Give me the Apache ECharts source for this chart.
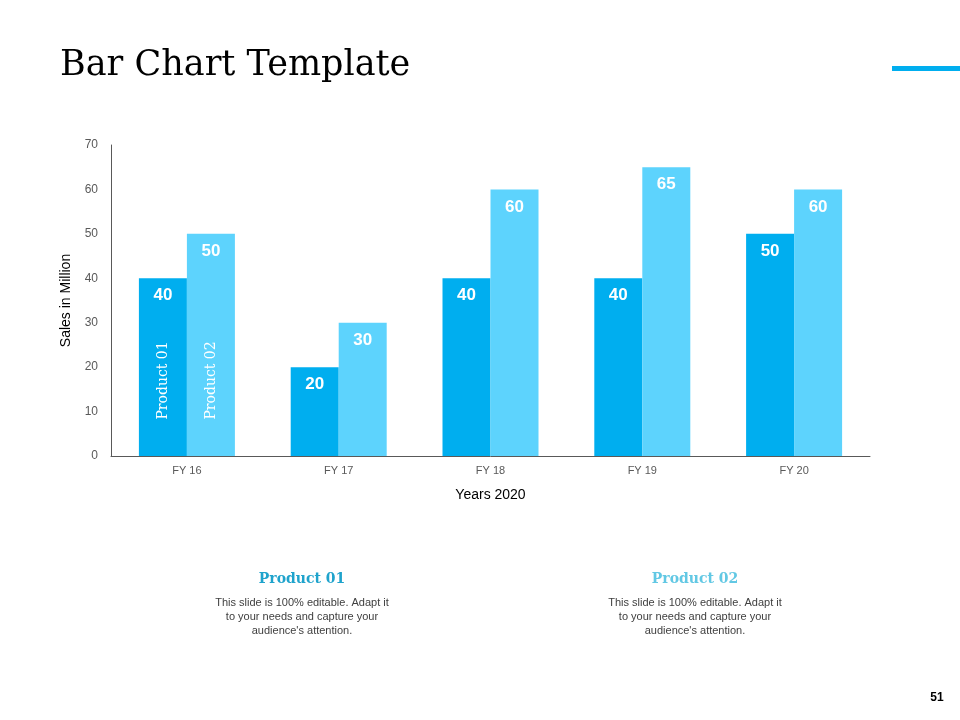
<!DOCTYPE html>
<html>
<head>
<meta charset="utf-8">
<script src="https://cdn.jsdelivr.net/npm/echarts@6/dist/echarts.min.js"></script>
<style>
  html, body { margin: 0; padding: 0; background: #ffffff; }
  #chart { width: 960px; height: 720px; }
</style>
</head>
<body>
<div id="chart"></div>
<script>
var chart = echarts.init(document.getElementById('chart'));

// data
var years = ['FY 16', 'FY 17', 'FY 18', 'FY 19', 'FY 20'];
var product01 = [40, 20, 40, 40, 50];
var product02 = [50, 30, 60, 65, 60];
var seriesNames = ['Product 01', 'Product 02'];
var COLORS = ['#00AEEF', '#5DD3FD'];
var blurb = "This slide is 100% editable. Adapt it\nto your needs and capture your\naudience's attention.";

var valueLabel = {
  show: true,
  position: 'insideTop',
  distance: 9,
  color: '#ffffff',
  fontFamily: 'Liberation Sans, Arial, sans-serif',
  fontWeight: 'bold',
  fontSize: 17
};

var option = {
  backgroundColor: '#ffffff',
  animation: false,
  grid: { left: 111, right: 90, top: 145, bottom: 264 },
  xAxis: {
    type: 'category',
    data: years,
    name: 'Years 2020',
    nameLocation: 'middle',
    nameGap: 32,
    nameTextStyle: { color: '#000000', fontSize: 14, fontFamily: 'Liberation Sans, Arial, sans-serif' },
    axisLine: { lineStyle: { color: '#595959', width: 1 } },
    axisTick: { show: false },
    axisLabel: { color: '#595959', fontSize: 11, margin: 9, fontFamily: 'Liberation Sans, Arial, sans-serif' }
  },
  yAxis: {
    type: 'value',
    min: 0,
    max: 70,
    interval: 10,
    name: 'Sales in Million',
    nameLocation: 'middle',
    nameGap: 38,
    nameTextStyle: { color: '#000000', fontSize: 14, fontFamily: 'Liberation Sans, Arial, sans-serif' },
    axisLine: { show: true, lineStyle: { color: '#595959', width: 1 } },
    axisTick: { show: false },
    splitLine: { show: false },
    axisLabel: { color: '#595959', fontSize: 12, margin: 13, fontFamily: 'Liberation Sans, Arial, sans-serif' }
  },
  series: [
    {
      name: seriesNames[0],
      type: 'bar',
      data: product01,
      barWidth: 48,
      barGap: '0%',
      itemStyle: { color: COLORS[0] },
      label: valueLabel
    },
    {
      name: seriesNames[1],
      type: 'bar',
      data: product02,
      barWidth: 48,
      barGap: '0%',
      itemStyle: { color: COLORS[1] },
      label: valueLabel
    }
  ]
};
chart.setOption(option);

// slide decorations + vertical series names inside the first pair of bars
var cx = chart.convertToPixel({ xAxisIndex: 0 }, years[0]);
var cy = chart.convertToPixel({ yAxisIndex: 0 }, 17);
var serif = 'DejaVu Serif, Liberation Serif, serif';

chart.setOption({
  graphic: [
    {
      type: 'text', left: 60, top: 48,
      style: { text: 'Bar Chart Template', font: '35px ' + serif, fill: '#000000' }
    },
    {
      type: 'rect', shape: { x: 892, y: 66, width: 68, height: 5 },
      style: { fill: '#00AEEF' }
    },
    {
      type: 'text', x: cx - 24, y: cy, rotation: Math.PI / 2, z: 100,
      style: { text: seriesNames[0], font: '14px ' + serif, fill: '#ffffff', align: 'center', verticalAlign: 'middle' }
    },
    {
      type: 'text', x: cx + 24, y: cy, rotation: Math.PI / 2, z: 100,
      style: { text: seriesNames[1], font: '14px ' + serif, fill: '#ffffff', align: 'center', verticalAlign: 'middle' }
    },
    {
      type: 'text', x: 302, y: 579,
      style: { text: seriesNames[0], font: 'bold 14px ' + serif, fill: '#1FA3CC', align: 'center', verticalAlign: 'middle' }
    },
    {
      type: 'text', x: 695, y: 579,
      style: { text: seriesNames[1], font: 'bold 14px ' + serif, fill: '#62C8E4', align: 'center', verticalAlign: 'middle' }
    },
    {
      type: 'text', x: 302, y: 596,
      style: { text: blurb, font: '11px Liberation Sans, Arial, sans-serif', fill: '#404040', align: 'center', lineHeight: 14 }
    },
    {
      type: 'text', x: 695, y: 596,
      style: { text: blurb, font: '11px Liberation Sans, Arial, sans-serif', fill: '#404040', align: 'center', lineHeight: 14 }
    },
    {
      type: 'text', x: 937, y: 698,
      style: { text: '51', font: 'bold 12px Liberation Sans, Arial, sans-serif', fill: '#000000', align: 'center', verticalAlign: 'middle' }
    }
  ]
});
</script>
</body>
</html>
